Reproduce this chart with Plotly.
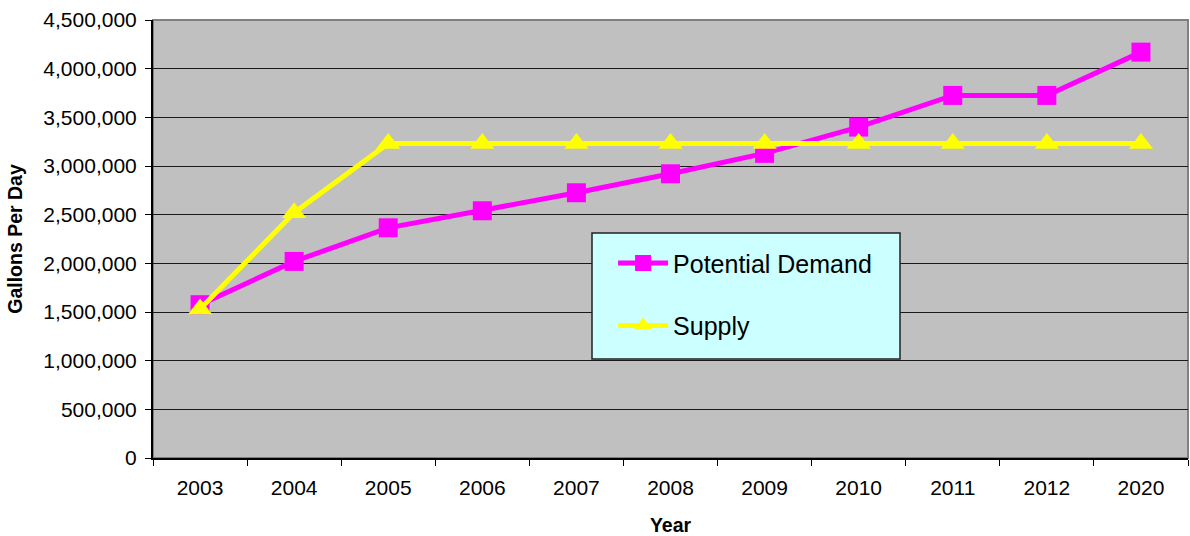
import plotly.graph_objects as go

# Yearly water figures (gallons per day)
years = ["2003", "2004", "2005", "2006", "2007", "2008", "2009", "2010", "2011", "2012", "2020"]
potential_demand = [1575000, 2020000, 2365000, 2540000, 2725000, 2920000, 3130000, 3400000, 3725000, 3725000, 4170000]
supply = [1530000, 2520000, 3230000, 3230000, 3230000, 3230000, 3230000, 3230000, 3230000, 3230000, 3230000]

FONT = "Liberation Sans, Arial, sans-serif"

fig = go.Figure()

fig.add_trace(go.Scatter(
    x=years, y=potential_demand, name="Potential Demand",
    mode="lines+markers", legendgroup="a",
    line=dict(color="#FF00FF", width=5),
    marker=dict(symbol="square", size=19, color="#FF00FF"),
))
fig.add_trace(go.Scatter(
    x=years, y=supply, name="Supply",
    mode="lines+markers", legendgroup="b",
    line=dict(color="#FFFF00", width=5),
    marker=dict(symbol="triangle-up", size=21, color="#FFFF00"),
))

fig.update_layout(
    width=1190, height=536,
    margin=dict(l=153, r=2, t=20, b=78),
    paper_bgcolor="white",
    plot_bgcolor="#C0C0C0",
    font=dict(family=FONT, size=21, color="black"),
    showlegend=True,
    legend=dict(
        x=0.4445, y=0.497, xanchor="left", yanchor="top",
        bgcolor="rgba(0,0,0,0)", borderwidth=0,
        font=dict(family=FONT, size=25, color="black"),
        tracegroupgap=27, itemwidth=50,
    ),
    shapes=[
        # plot area frame
        dict(type="rect", xref="paper", yref="paper", x0=0, x1=1, y0=0, y1=1,
             line=dict(color="#808080", width=2), layer="below"),
        # legend box
        dict(type="rect", xref="paper", yref="paper",
             x0=(592 - 153) / 1035, x1=(900 - 153) / 1035,
             y0=(458 - 359) / 438, y1=(458 - 233) / 438,
             fillcolor="#CCFFFF", line=dict(color="#222222", width=1.5), layer="above"),
    ],
)

fig.update_xaxes(
    type="category", range=[-0.5, len(years) - 0.5],
    tickson="boundaries", ticks="outside", ticklen=6, tickcolor="black",
    showline=True, linecolor="black", linewidth=2,
    showgrid=False, zeroline=False,
    tickfont=dict(family=FONT, size=21), ticklabelstandoff=10,
    title=dict(text="<b>Year</b>", font=dict(family=FONT, size=19.5), standoff=20),
)
fig.update_yaxes(
    range=[0, 4500000], dtick=500000, tickformat=",d",
    ticks="outside", ticklen=6, tickcolor="black",
    showline=True, linecolor="black", linewidth=2,
    showgrid=True, gridcolor="#1a1a1a", gridwidth=1, zeroline=False,
    tickfont=dict(family=FONT, size=21), ticklabelstandoff=4,
    title=dict(text="<b>Gallons Per Day</b>", font=dict(family=FONT, size=19.5), standoff=16),
)

fig.write_html("out.html")
